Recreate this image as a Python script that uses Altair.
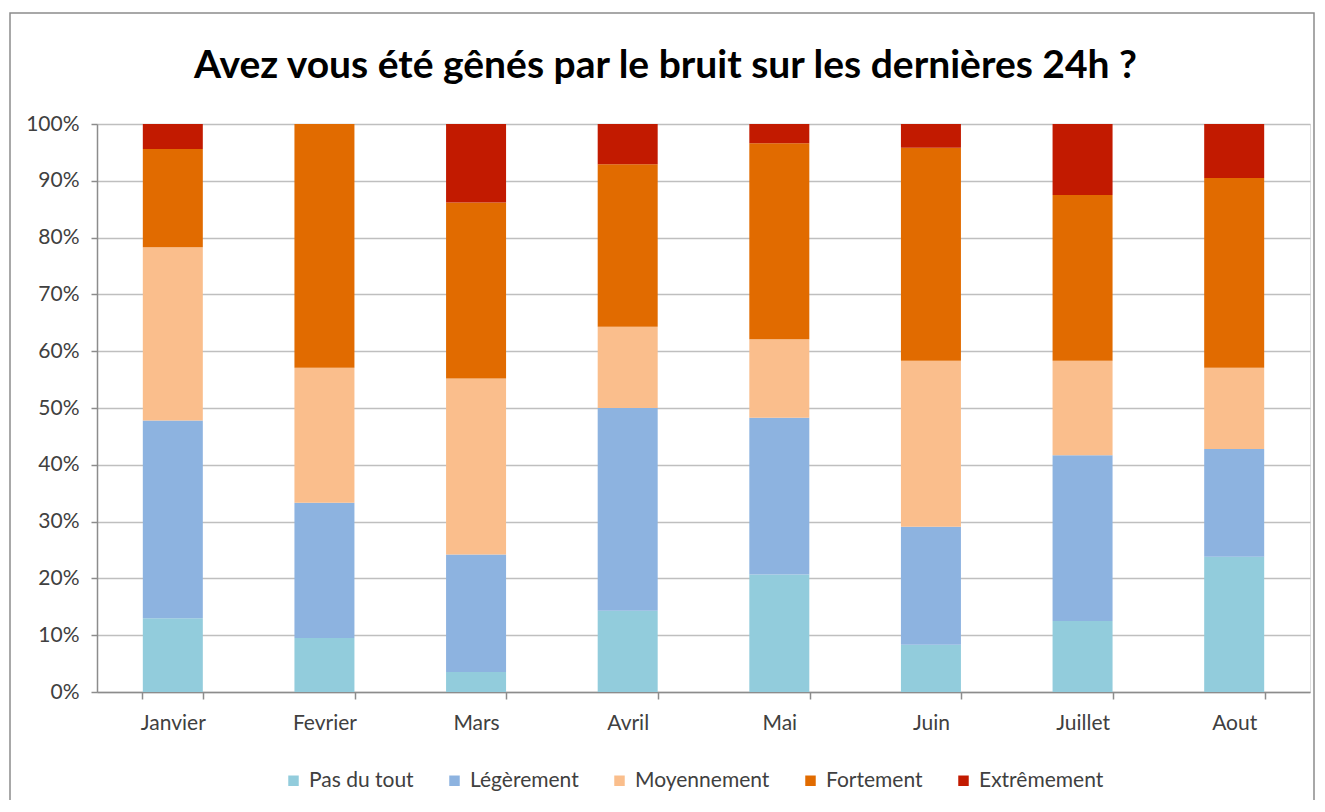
import altair as alt
import pandas as pd

months = ["Janvier", "Fevrier", "Mars", "Avril", "Mai", "Juin", "Juillet", "Aout"]
levels = ["Pas du tout", "Légèrement", "Moyennement", "Fortement", "Extrêmement"]
colors = ["#92CCDC", "#8DB3E0", "#FABE8C", "#E16B00", "#C21A00"]

pas_du_tout = [13.0, 9.5, 3.5, 14.3, 20.7, 8.3, 12.5, 23.8]
legerement = [34.8, 23.8, 20.7, 35.7, 27.6, 20.8, 29.2, 19.0]
moyennement = [30.5, 23.8, 31.0, 14.3, 13.8, 29.2, 16.6, 14.3]
fortement = [17.3, 42.9, 31.0, 28.6, 34.5, 37.5, 29.2, 33.4]
extremement = [4.4, 0.0, 13.8, 7.1, 3.4, 4.2, 12.5, 9.5]

series = [pas_du_tout, legerement, moyennement, fortement, extremement]
rows = []
for rank, (lvl, vals) in enumerate(zip(levels, series)):
    for m, v in zip(months, vals):
        rows.append({"mois": m, "niveau": lvl, "rang": rank, "valeur": v})
df = pd.DataFrame(rows)

FONT = "Lato"
TXT = "#404040"
GRID = "#BFBFBF"
AXC = "#8C8C8C"

bars = alt.Chart(df).mark_bar(size=60).encode(
    x=alt.X("mois:N", sort=months, title=None,
            scale=alt.Scale(paddingInner=0.6, paddingOuter=0.3),
            axis=alt.Axis(labelAngle=0, labelFontSize=21, labelFont=FONT, labelColor=TXT,
                          labelPadding=13, tickBand="extent", tickSize=7, tickColor=AXC,
                          domainColor=AXC, domainWidth=1.5, tickWidth=1.5, grid=False)),
    y=alt.Y("valeur:Q", stack="normalize", title=None,
            scale=alt.Scale(domain=[0, 1], nice=False),
            axis=alt.Axis(format=".0%", values=[i / 10 for i in range(11)],
                          labelFontSize=21, labelFont=FONT, labelColor=TXT, labelPadding=12,
                          tickSize=6, tickColor=AXC, tickWidth=1.5, domainColor=AXC, domainWidth=1.5,
                          gridColor=GRID, gridWidth=1.5)),
    color=alt.Color("niveau:N", sort=levels, title=None,
                    scale=alt.Scale(domain=levels, range=colors),
                    legend=alt.Legend(orient="none", direction="horizontal", legendX=186, legendY=646,
                                      labelFont=FONT, labelFontSize=21, labelColor=TXT,
                                      symbolType="square", symbolSize=110, symbolStrokeWidth=0,
                                      columnPadding=30, labelOffset=5)),
    order=alt.Order("rang:Q", sort="ascending"),
)

border = alt.Chart(alt.Data(values=[{"b": 1}])).mark_rect(
    fill="transparent", stroke="#8C8C8C", strokeWidth=1.5, clip=False
).encode(x=alt.value(-87), x2=alt.value(1217), y=alt.value(-111), y2=alt.value(720))

chart = alt.layer(border, bars).properties(
    width=1213, height=568,
    title=alt.Title("Avez vous été gênés par le bruit sur les dernières 24h ?",
                    font=FONT, fontSize=39, fontWeight="bold", color="#000000",
                    anchor="middle", baseline="alphabetic", offset=-105, dx=-38),
    autosize=alt.AutoSizeParams(type="none"),
    padding={"left": 89, "top": 116, "right": 6, "bottom": 108},
).configure_view(stroke=None).configure(background="white")

chart.save("out.html", embed_options={"renderer": "svg", "actions": False})
